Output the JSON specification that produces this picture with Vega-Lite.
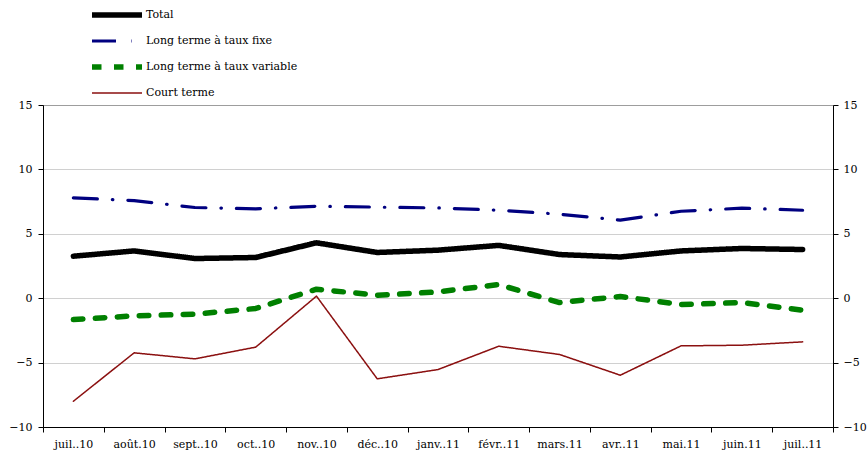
{
  "$schema": "https://vega.github.io/schema/vega-lite/v6.json",
  "width": 790,
  "height": 322,
  "autosize": {"type": "none"},
  "padding": {"left": 43, "top": 105, "right": 35, "bottom": 29},
  "background": "white",
  "config": {
    "view": {"stroke": "#9a9a9a", "strokeWidth": 1},
    "axis": {
      "labelFont": "DejaVu Serif",
      "labelFontSize": 11,
      "labelColor": "#000",
      "domainColor": "#000",
      "domainWidth": 1,
      "tickColor": "#000",
      "title": null
    },
    "legend": {
      "labelFont": "DejaVu Serif",
      "labelFontSize": 11,
      "labelColor": "#000",
      "labelLimit": 400
    }
  },
  "data": {
    "values": [
      {"month": "juil..10", "series": "Total", "value": 3.26},
      {"month": "août.10", "series": "Total", "value": 3.67},
      {"month": "sept..10", "series": "Total", "value": 3.08},
      {"month": "oct..10", "series": "Total", "value": 3.16},
      {"month": "nov..10", "series": "Total", "value": 4.3},
      {"month": "déc..10", "series": "Total", "value": 3.55},
      {"month": "janv..11", "series": "Total", "value": 3.73},
      {"month": "févr..11", "series": "Total", "value": 4.1},
      {"month": "mars.11", "series": "Total", "value": 3.39},
      {"month": "avr..11", "series": "Total", "value": 3.2},
      {"month": "mai.11", "series": "Total", "value": 3.67},
      {"month": "juin.11", "series": "Total", "value": 3.86},
      {"month": "juil..11", "series": "Total", "value": 3.78},
      {"month": "juil..10", "series": "Long terme à taux fixe", "value": 7.79},
      {"month": "août.10", "series": "Long terme à taux fixe", "value": 7.58},
      {"month": "sept..10", "series": "Long terme à taux fixe", "value": 7.04},
      {"month": "oct..10", "series": "Long terme à taux fixe", "value": 6.94},
      {"month": "nov..10", "series": "Long terme à taux fixe", "value": 7.14},
      {"month": "déc..10", "series": "Long terme à taux fixe", "value": 7.07},
      {"month": "janv..11", "series": "Long terme à taux fixe", "value": 7.01},
      {"month": "févr..11", "series": "Long terme à taux fixe", "value": 6.83},
      {"month": "mars.11", "series": "Long terme à taux fixe", "value": 6.52},
      {"month": "avr..11", "series": "Long terme à taux fixe", "value": 6.06},
      {"month": "mai.11", "series": "Long terme à taux fixe", "value": 6.75},
      {"month": "juin.11", "series": "Long terme à taux fixe", "value": 6.99},
      {"month": "juil..11", "series": "Long terme à taux fixe", "value": 6.83},
      {"month": "juil..10", "series": "Long terme à taux variable", "value": -1.66},
      {"month": "août.10", "series": "Long terme à taux variable", "value": -1.37},
      {"month": "sept..10", "series": "Long terme à taux variable", "value": -1.24},
      {"month": "oct..10", "series": "Long terme à taux variable", "value": -0.8},
      {"month": "nov..10", "series": "Long terme à taux variable", "value": 0.7},
      {"month": "déc..10", "series": "Long terme à taux variable", "value": 0.23},
      {"month": "janv..11", "series": "Long terme à taux variable", "value": 0.49},
      {"month": "févr..11", "series": "Long terme à taux variable", "value": 1.06},
      {"month": "mars.11", "series": "Long terme à taux variable", "value": -0.34},
      {"month": "avr..11", "series": "Long terme à taux variable", "value": 0.13},
      {"month": "mai.11", "series": "Long terme à taux variable", "value": -0.49},
      {"month": "juin.11", "series": "Long terme à taux variable", "value": -0.34},
      {"month": "juil..11", "series": "Long terme à taux variable", "value": -0.93},
      {"month": "juil..10", "series": "Court terme", "value": -8.0},
      {"month": "août.10", "series": "Court terme", "value": -4.24},
      {"month": "sept..10", "series": "Court terme", "value": -4.71},
      {"month": "oct..10", "series": "Court terme", "value": -3.8},
      {"month": "nov..10", "series": "Court terme", "value": 0.16},
      {"month": "déc..10", "series": "Court terme", "value": -6.26},
      {"month": "janv..11", "series": "Court terme", "value": -5.54},
      {"month": "févr..11", "series": "Court terme", "value": -3.73},
      {"month": "mars.11", "series": "Court terme", "value": -4.37},
      {"month": "avr..11", "series": "Court terme", "value": -5.98},
      {"month": "mai.11", "series": "Court terme", "value": -3.7},
      {"month": "juin.11", "series": "Court terme", "value": -3.65},
      {"month": "juil..11", "series": "Court terme", "value": -3.39}
    ]
  },
  "layer": [
    {
      "mark": {"type": "line", "strokeJoin": "round", "strokeCap": "round"},
      "encoding": {
        "x": {
          "field": "month",
          "type": "nominal",
          "sort": ["juil..10", "août.10", "sept..10", "oct..10", "nov..10", "déc..10", "janv..11", "févr..11", "mars.11", "avr..11", "mai.11", "juin.11", "juil..11"],
          "scale": {"type": "band", "paddingInner": 0, "paddingOuter": 0},
          "bandPosition": 0.5,
          "axis": {"labelAngle": 0, "tickBand": "extent", "tickSize": 5, "labelPadding": 6, "grid": false, "labelFont": "DejaVu Serif", "labelFontSize": 11}
        },
        "y": {
          "field": "value",
          "type": "quantitative",
          "scale": {"domain": [-10, 15], "nice": false, "zero": false},
          "axis": {"values": [-10, -5, 0, 5, 10, 15], "tickSize": 5, "labelPadding": 6, "grid": true, "gridColor": "#a0a0a0", "gridDash": [1, 1], "gridWidth": 1, "labelFont": "DejaVu Serif", "labelFontSize": 11}
        },
        "color": {
          "field": "series",
          "type": "nominal",
          "scale": {
            "domain": ["Total", "Long terme à taux fixe", "Long terme à taux variable", "Court terme"],
            "range": ["#000000", "#000080", "#008000", "#8B1010"]
          },
          "legend": {
            "title": null, "orient": "none", "legendX": 46, "legendY": -97,
            "symbolType": "stroke", "symbolSize": 2500, "clipHeight": 14, "rowPadding": 12, "labelOffset": 1,
            "labelFont": "DejaVu Serif", "labelFontSize": 11, "labelLimit": 400
          }
        },
        "strokeDash": {
          "field": "series",
          "type": "nominal",
          "scale": {
            "domain": ["Total", "Long terme à taux fixe", "Long terme à taux variable", "Court terme"],
            "range": [[1, 0], [24, 15, 0.5, 15], [9.5, 12.5], [1, 0]]
          },
          "legend": {"title": null}
        },
        "strokeWidth": {
          "field": "series",
          "type": "nominal",
          "scale": {
            "type": "ordinal",
            "domain": ["Total", "Long terme à taux fixe", "Long terme à taux variable", "Court terme"],
            "range": [5.5, 3.2, 5.5, 1.5]
          },
          "legend": {"title": null}
        }
      }
    },
    {
      "mark": {"type": "line", "opacity": 0},
      "encoding": {
        "x": {
          "field": "month",
          "type": "nominal",
          "sort": ["juil..10", "août.10", "sept..10", "oct..10", "nov..10", "déc..10", "janv..11", "févr..11", "mars.11", "avr..11", "mai.11", "juin.11", "juil..11"],
          "scale": {"type": "band", "paddingInner": 0, "paddingOuter": 0},
          "bandPosition": 0.5
        },
        "y": {
          "field": "value",
          "type": "quantitative",
          "scale": {"domain": [-10, 15], "nice": false, "zero": false},
          "axis": {"orient": "right", "values": [-10, -5, 0, 5, 10, 15], "tickSize": 5, "labelPadding": 5, "grid": false, "labelFont": "DejaVu Serif", "labelFontSize": 11}
        },
        "detail": {"field": "series", "type": "nominal"}
      }
    }
  ],
  "resolve": {"scale": {"y": "independent"}}
}
